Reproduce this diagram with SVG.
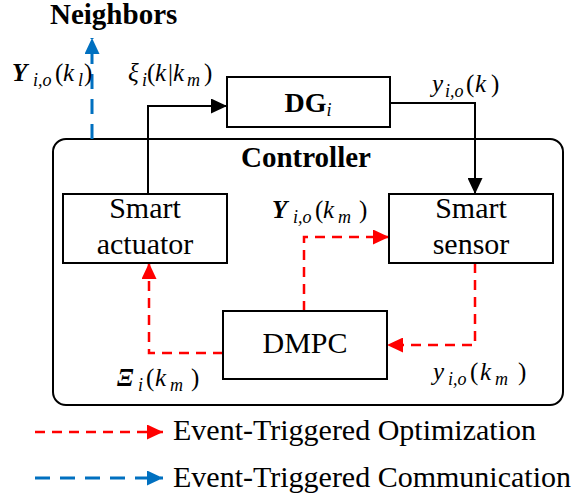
<svg xmlns="http://www.w3.org/2000/svg" width="572" height="500" viewBox="0 0 572 500">
<defs>
<marker id="ar" markerWidth="16" markerHeight="15" refX="16" refY="7.5" orient="auto" markerUnits="userSpaceOnUse" viewBox="0 0 16 15"><path d="M0,0L16,7.5L0,15Z" fill="#ff0000"/></marker>
<marker id="ab" markerWidth="16" markerHeight="15" refX="16" refY="7.5" orient="auto" markerUnits="userSpaceOnUse" viewBox="0 0 16 15"><path d="M0,0L16,7.5L0,15Z" fill="#0070c0"/></marker>
<marker id="ak" markerWidth="16" markerHeight="15" refX="16" refY="7.5" orient="auto" markerUnits="userSpaceOnUse" viewBox="0 0 16 15"><path d="M0,0L16,7.5L0,15Z" fill="#000"/></marker>
</defs>
<g id="controller">
<rect x="53" y="139" width="510" height="266" rx="13" fill="none" stroke="#000" stroke-width="2"/>
<text x="306" y="167" font-family="Liberation Serif" font-size="29" font-weight="bold" text-anchor="middle">Controller</text>
</g>
<g id="connectors" fill="none">
<path stroke="#000" stroke-width="2" d="M148,194V106H227" marker-end="url(#ak)"/>
<path stroke="#000" stroke-width="2" d="M390,103H475V194" marker-end="url(#ak)"/>
<g stroke="#ff0000" stroke-width="2.5" stroke-dasharray="10,7">
<path d="M223,353H149V263" marker-end="url(#ar)"/>
<path d="M304,311V237H389" marker-end="url(#ar)"/>
<path d="M475,263V345H387" marker-end="url(#ar)"/>
</g>
<path stroke="#0070c0" stroke-width="3" stroke-dasharray="15,10" d="M92,139V38" marker-end="url(#ab)"/>
</g>
<g id="dg">
<rect fill="#fff" stroke="#000" stroke-width="2" x="227" y="77" width="163" height="50"/>
<text x="308" y="112" font-family="Liberation Serif" font-size="28" font-weight="bold" text-anchor="middle">DG<tspan font-size="18" font-weight="normal" font-style="italic" dy="4">i</tspan></text>
</g>
<g id="actuator">
<rect fill="#fff" stroke="#000" stroke-width="2" x="63" y="194" width="164" height="69"/>
<text x="145" y="218" font-family="Liberation Serif" font-size="30" text-anchor="middle">Smart</text>
<text x="145" y="254" font-family="Liberation Serif" font-size="30" text-anchor="middle">actuator</text>
</g>
<g id="sensor">
<rect fill="#fff" stroke="#000" stroke-width="2" x="389" y="194" width="164" height="69"/>
<text x="471" y="218" font-family="Liberation Serif" font-size="30" text-anchor="middle">Smart</text>
<text x="471" y="254" font-family="Liberation Serif" font-size="30" text-anchor="middle">sensor</text>
</g>
<g id="dmpc">
<rect fill="#fff" stroke="#000" stroke-width="2" x="223" y="311" width="164" height="68"/>
<text x="305" y="353" font-family="Liberation Serif" font-size="30" text-anchor="middle">DMPC</text>
</g>
<g id="labels">
<text x="50" y="24" font-family="Liberation Serif" font-size="29" font-weight="bold">Neighbors</text>
<text font-family="Liberation Serif" font-size="25"><tspan font-style="italic" font-weight="bold" x="12" y="81">Y</tspan><tspan font-style="italic" font-size="18" x="33" y="86">i,o</tspan><tspan x="55" y="81">(</tspan><tspan font-style="italic" x="63" y="81">k</tspan><tspan font-style="italic" font-size="18" x="78" y="86">l</tspan><tspan x="84" y="81">)</tspan></text>
<text font-family="Liberation Serif" font-size="25"><tspan font-style="italic" x="128" y="81">ξ</tspan><tspan font-style="italic" font-size="18" x="142" y="86">i</tspan><tspan x="147" y="81">(</tspan><tspan font-style="italic" x="155" y="81">k</tspan><tspan x="168" y="81">|</tspan><tspan font-style="italic" x="173" y="81">k</tspan><tspan font-style="italic" font-size="18" x="187" y="86">m</tspan><tspan x="204" y="81">)</tspan></text>
<text font-family="Liberation Serif" font-size="25"><tspan font-style="italic" x="432" y="92">y</tspan><tspan font-style="italic" font-size="18" x="445" y="97">i,o</tspan><tspan x="466" y="92">(</tspan><tspan font-style="italic" x="475" y="92">k</tspan><tspan x="491" y="92">)</tspan></text>
<text font-family="Liberation Serif" font-size="25"><tspan font-style="italic" font-weight="bold" x="272" y="218">Y</tspan><tspan font-style="italic" font-size="18" x="293" y="223">i,o</tspan><tspan x="315" y="218">(</tspan><tspan font-style="italic" x="323" y="218">k</tspan><tspan font-style="italic" font-size="18" x="338" y="223">m</tspan><tspan x="359" y="218">)</tspan></text>
<text font-family="Liberation Serif" font-size="25"><tspan font-style="italic" font-weight="bold" x="117" y="386">Ξ</tspan><tspan font-style="italic" font-size="18" x="138" y="391">i</tspan><tspan x="146" y="386">(</tspan><tspan font-style="italic" x="155" y="386">k</tspan><tspan font-style="italic" font-size="18" x="170" y="391">m</tspan><tspan x="191" y="386">)</tspan></text>
<text font-family="Liberation Serif" font-size="25"><tspan font-style="italic" x="433" y="380">y</tspan><tspan font-style="italic" font-size="18" x="448" y="385">i,o</tspan><tspan x="470" y="380">(</tspan><tspan font-style="italic" x="480" y="380">k</tspan><tspan font-style="italic" font-size="18" x="495" y="385">m</tspan><tspan x="518" y="380">)</tspan></text>
</g>
<g id="legend">
<path fill="none" stroke="#ff0000" stroke-width="2.5" stroke-dasharray="10,7" d="M35,432H163" marker-end="url(#ar)"/>
<text x="173" y="440" font-family="Liberation Serif" font-size="30">Event-Triggered Optimization</text>
<path fill="none" stroke="#0070c0" stroke-width="3" stroke-dasharray="15,10" d="M35,478H163" marker-end="url(#ab)"/>
<text x="173" y="487" font-family="Liberation Serif" font-size="30">Event-Triggered Communication</text>
</g>
</svg>
